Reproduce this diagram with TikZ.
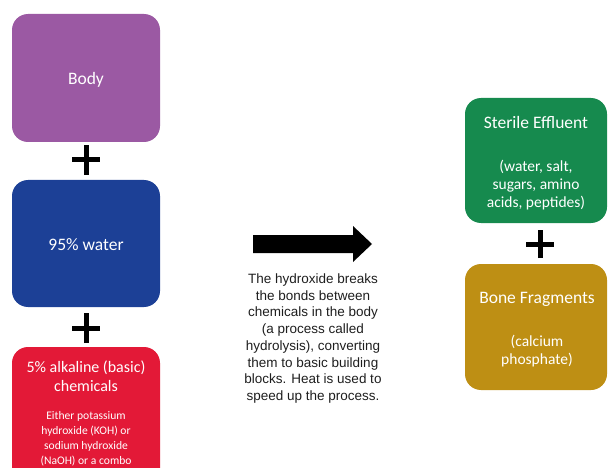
\documentclass[tikz,border=0pt]{standalone}
\usepackage{fontspec}
\setmainfont{Carlito}
\newfontfamily\arialfont{Liberation Sans}
\definecolor{cbody}{RGB}{155,89,163}
\definecolor{cwater}{RGB}{28,64,150}
\definecolor{cred}{RGB}{227,25,55}
\definecolor{cgreen}{RGB}{22,138,78}
\definecolor{cgold}{RGB}{190,143,20}
\definecolor{ctext}{RGB}{30,30,30}
\tikzset{
  boxfill/.style={rounded corners=16pt},
  title/.style={text=white, align=center, font=\fontsize{17.5}{19}\selectfont, inner sep=0pt},
  subtext/.style={text=white, align=center, font=\fontsize{15.5}{18}\selectfont, inner sep=0pt},
  plusbar/.style={line width=5pt, black},
}
\begin{document}
\begin{tikzpicture}[x=1pt,y=-1pt]
\useasboundingbox (0,0) rectangle (608,468);
% left column
\fill[cbody, boxfill] (12,14) rectangle (160,142);
\node[title] (body) at (86,80) {Body};
\fill[cwater, boxfill] (12,180) rectangle (160,307);
\node[title] (water) at (86,245) {95\% water};
\fill[cred, boxfill] (12,347) rectangle (160,490);
\node[text=white, align=center, font=\fontsize{16}{19}\selectfont, inner sep=0pt] (alk) at (86,376.5) {5\% alkaline (basic)\\chemicals};
\node[text=white, align=center, font=\fontsize{11.6}{15}\selectfont, inner sep=0pt] (alksub) at (86,439) {Either potassium\\hydroxide (KOH) or\\sodium hydroxide\\(NaOH) or a combo};
% plus signs
\coordinate (p1) at (86,160);
\draw[plusbar] ([xshift=-14pt]p1) -- ([xshift=14pt]p1) ([yshift=-15pt]p1) -- ([yshift=15pt]p1);
\coordinate (p2) at (86,328);
\draw[plusbar] ([xshift=-14pt]p2) -- ([xshift=14pt]p2) ([yshift=-15pt]p2) -- ([yshift=15pt]p2);
% arrow
\fill[black] (253,235) -- (353,235) -- (353,226) -- (372,244) -- (353,262) -- (353,253) -- (253,253) -- cycle;
\node[text=ctext, align=center, font=\arialfont\fontsize{13.5}{16.7}\selectfont, inner sep=0pt] (desc) at (313,338.5) {The hydroxide breaks\\the bonds between\\chemicals in the body\\(a process called\\hydrolysis), converting\\them to basic building\\blocks. Heat is used to\\speed up the process.};
% right column
\fill[cgreen, boxfill] (465,98) rectangle (607,223);
\node[title] (eff) at (536,122) {Sterile Effluent};
\node[subtext] (effsub) at (536,185) {(water, salt,\\sugars, amino\\acids, peptides)};
\coordinate (p3) at (540,244);
\draw[plusbar] ([xshift=-14pt]p3) -- ([xshift=14pt]p3) ([yshift=-14pt]p3) -- ([yshift=14pt]p3);
\fill[cgold, boxfill] (465,264) rectangle (607,390);
\node[title] (bone) at (537,299) {Bone Fragments};
\node[subtext] (bonesub) at (537,351.5) {(calcium\\phosphate)};
\end{tikzpicture}
\end{document}
